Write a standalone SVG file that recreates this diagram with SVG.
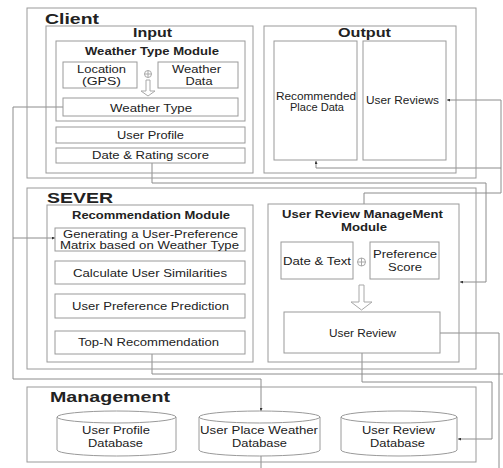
<svg xmlns="http://www.w3.org/2000/svg" width="503" height="468" viewBox="0 0 503 468">
  <style>
    .box { fill: none; stroke: #9a9a9a; stroke-width: 1; }
    .fill { fill: #ffffff; stroke: #9a9a9a; stroke-width: 1; }
    .wire { fill: none; stroke: #8c8c8c; stroke-width: 1; }
    .hollow { fill: #ffffff; stroke: #a8a8a8; stroke-width: 1; }
    text { font-family: "Liberation Sans", Arial, sans-serif; fill: #222222; text-anchor: middle; }
    .t { font-size: 10.5px; }
    .h { font-size: 10px; font-weight: bold; }
    .m { font-size: 12px; font-weight: bold; }
    .big { font-size: 15px; font-weight: bold; }
  </style>
  <defs>
    <marker id="tip" viewBox="0 0 3 3" refX="3" refY="1.5" markerWidth="3" markerHeight="3" markerUnits="userSpaceOnUse" orient="auto">
      <path d="M0,0 L3,1.5 L0,3 z" fill="#333333"/>
    </marker>
  </defs>

  <rect width="503" height="468" fill="#ffffff"/>

  <!-- connectors -->
  <g id="connectors">
    <path class="wire" d="M63,107 H13 V379 H261 V411" marker-end="url(#tip)"/>
    <path class="wire" d="M13,238 H55" marker-end="url(#tip)"/>
    <path class="wire" d="M152,163 V183 H486 V282 H460" marker-end="url(#tip)"/>
    <path class="wire" d="M364,204 V193 H501 V100 H447" marker-end="url(#tip)"/>
    <path class="wire" d="M501,168 H316 V161" marker-end="url(#tip)"/>
    <path class="wire" d="M152,354 V374 H503"/>
    <path class="wire" d="M362,353 V382 H492 V439 H458" marker-end="url(#tip)"/>
    <path class="wire" d="M440,333 H499 V468"/>
    <path class="wire" d="M261,468 V446" marker-end="url(#tip)"/>
  </g>

  <!-- client tier -->
  <g id="client">
    <rect class="box" x="27" y="8" width="449" height="170"/>
    <text class="big" x="72" y="24" textLength="54" lengthAdjust="spacingAndGlyphs">Client</text>
  </g>
  <g id="input">
    <rect class="box" x="46" y="26" width="207" height="147"/>
    <text class="m" x="152.5" y="37" textLength="39" lengthAdjust="spacingAndGlyphs">Input</text>
  </g>
  <g id="weather-type-module">
    <rect class="box" x="56" y="41" width="189" height="80"/>
    <text class="h" x="152" y="55" textLength="134" lengthAdjust="spacingAndGlyphs">Weather Type Module</text>
    <circle cx="148" cy="74" r="3.5" fill="none" stroke="#a8a8a8"/>
    <path d="M144.5,74 H151.5 M148,70.5 V77.5" stroke="#a8a8a8" fill="none"/>
    <path class="hollow" d="M146,80 H150 V91 H155 L148,96 L141,91 H146 z"/>
  </g>
  <g id="location">
    <rect class="box" x="63" y="62" width="74" height="26"/>
    <text class="t" x="101.5" y="73" textLength="49" lengthAdjust="spacingAndGlyphs">Location</text>
    <text class="t" x="101.5" y="85" textLength="39" lengthAdjust="spacingAndGlyphs">(GPS)</text>
  </g>
  <g id="weather-data">
    <rect class="box" x="158" y="62" width="80" height="26"/>
    <text class="t" x="196.5" y="73" textLength="49" lengthAdjust="spacingAndGlyphs">Weather</text>
    <text class="t" x="199" y="85" textLength="27" lengthAdjust="spacingAndGlyphs">Data</text>
  </g>
  <g id="weather-type">
    <rect class="box" x="63" y="98" width="175" height="18"/>
    <text class="t" x="151" y="112" textLength="82" lengthAdjust="spacingAndGlyphs">Weather Type</text>
  </g>
  <g id="user-profile">
    <rect class="box" x="56" y="127" width="189" height="16"/>
    <text class="t" x="150.5" y="139" textLength="67" lengthAdjust="spacingAndGlyphs">User Profile</text>
  </g>
  <g id="date-rating">
    <rect class="box" x="56" y="148" width="189" height="15"/>
    <text class="t" x="150.5" y="159" textLength="117" lengthAdjust="spacingAndGlyphs">Date &amp; Rating score</text>
  </g>
  <g id="output">
    <rect class="box" x="264" y="26" width="192" height="147"/>
    <text class="m" x="364.5" y="37" textLength="53" lengthAdjust="spacingAndGlyphs">Output</text>
  </g>
  <g id="recommended-place-data">
    <rect class="box" x="274" y="41" width="83" height="119"/>
    <text class="t" x="316" y="100" textLength="80" lengthAdjust="spacingAndGlyphs">Recommended</text>
    <text class="t" x="317" y="111" textLength="54" lengthAdjust="spacingAndGlyphs">Place Data</text>
  </g>
  <g id="user-reviews">
    <rect class="box" x="363" y="41" width="83" height="119"/>
    <text class="t" x="402.5" y="104" textLength="73" lengthAdjust="spacingAndGlyphs">User Reviews</text>
  </g>

  <!-- server tier -->
  <g id="sever">
    <rect class="box" x="27" y="188" width="449" height="181"/>
    <text class="big" x="80" y="203" textLength="66" lengthAdjust="spacingAndGlyphs">SEVER</text>
  </g>
  <g id="recommendation-module">
    <rect class="box" x="47" y="205" width="206" height="157"/>
    <text class="h" x="151" y="219" textLength="158" lengthAdjust="spacingAndGlyphs">Recommendation Module</text>
  </g>
  <g id="generate-matrix">
    <rect class="box" x="55" y="228" width="190" height="23"/>
    <text class="t" x="150.5" y="238" textLength="175" lengthAdjust="spacingAndGlyphs">Generating a User-Preference</text>
    <text class="t" x="149.5" y="249" textLength="179" lengthAdjust="spacingAndGlyphs">Matrix based on Weather Type</text>
  </g>
  <g id="user-similarities">
    <rect class="box" x="55" y="261" width="190" height="23"/>
    <text class="t" x="150" y="277" textLength="154" lengthAdjust="spacingAndGlyphs">Calculate User Similarities</text>
  </g>
  <g id="preference-prediction">
    <rect class="box" x="55" y="294" width="190" height="24"/>
    <text class="t" x="150.5" y="310" textLength="157" lengthAdjust="spacingAndGlyphs">User Preference Prediction</text>
  </g>
  <g id="top-n">
    <rect class="box" x="55" y="331" width="190" height="23"/>
    <text class="t" x="148.5" y="346" textLength="141" lengthAdjust="spacingAndGlyphs">Top-N Recommendation</text>
  </g>
  <g id="review-module">
    <rect class="box" x="268" y="204" width="191" height="158"/>
    <text class="h" x="362.5" y="218" textLength="161" lengthAdjust="spacingAndGlyphs">User Review ManageMent</text>
    <text class="h" x="364" y="231" textLength="46" lengthAdjust="spacingAndGlyphs">Module</text>
    <circle cx="361.5" cy="262" r="4" fill="none" stroke="#a8a8a8"/>
    <path d="M357.5,262 H365.5 M361.5,258 V266" stroke="#a8a8a8" fill="none"/>
    <path class="hollow" d="M359,285 H364 V302 H372 L361.5,310 L351,302 H359 z"/>
  </g>
  <g id="date-text">
    <rect class="box" x="281" y="242" width="72" height="37"/>
    <text class="t" x="317" y="265" textLength="68" lengthAdjust="spacingAndGlyphs">Date &amp; Text</text>
  </g>
  <g id="preference-score">
    <rect class="box" x="370" y="242" width="69" height="37"/>
    <text class="t" x="405" y="258" textLength="64" lengthAdjust="spacingAndGlyphs">Preference</text>
    <text class="t" x="405" y="271" textLength="34" lengthAdjust="spacingAndGlyphs">Score</text>
  </g>
  <g id="user-review">
    <rect class="box" x="284" y="312" width="156" height="41"/>
    <text class="t" x="362.5" y="337" textLength="67" lengthAdjust="spacingAndGlyphs">User Review</text>
  </g>

  <!-- storage tier -->
  <g id="management">
    <rect class="box" x="27" y="387" width="449" height="75"/>
    <text class="big" x="110" y="402" textLength="120" lengthAdjust="spacingAndGlyphs">Management</text>
  </g>
  <g id="user-profile-db">
    <path class="fill" d="M57,417 V450 A59.5,6 0 0 0 176,450 V417"/>
    <ellipse class="fill" cx="116.5" cy="417" rx="59.5" ry="6"/>
    <text class="t" x="116" y="434" textLength="68" lengthAdjust="spacingAndGlyphs">User Profile</text>
    <text class="t" x="115.5" y="447" textLength="55" lengthAdjust="spacingAndGlyphs">Database</text>
  </g>
  <g id="user-place-weather-db">
    <path class="fill" d="M199,417 V450 A60.5,6 0 0 0 320,450 V417"/>
    <ellipse class="fill" cx="259.5" cy="417" rx="60.5" ry="6"/>
    <text class="t" x="259" y="434" textLength="118" lengthAdjust="spacingAndGlyphs">User Place Weather</text>
    <text class="t" x="259.5" y="447" textLength="55" lengthAdjust="spacingAndGlyphs">Database</text>
  </g>
  <g id="user-review-db">
    <path class="fill" d="M341,417 V450 A58,6 0 0 0 457,450 V417"/>
    <ellipse class="fill" cx="399" cy="417" rx="58" ry="6"/>
    <text class="t" x="398.5" y="434" textLength="73" lengthAdjust="spacingAndGlyphs">User Review</text>
    <text class="t" x="397.5" y="447" textLength="55" lengthAdjust="spacingAndGlyphs">Database</text>
  </g>
</svg>
